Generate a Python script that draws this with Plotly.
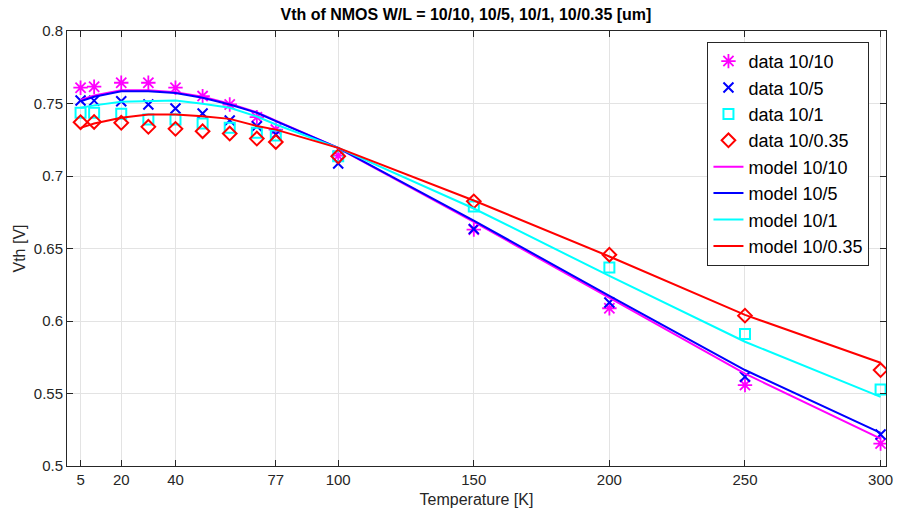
import plotly.graph_objects as go

# Temperatures [K]
temp = [5, 10, 20, 30, 40, 50, 60, 70, 77, 100, 150, 200, 250, 300]

# Measured Vth [V]
data_10_10 = [0.7609, 0.7616, 0.7643, 0.7643, 0.7609, 0.7551, 0.7493, 0.7406, 0.7320,
              0.7140, 0.6630, 0.6088, 0.5558, 0.5155]
data_10_5 = [0.7521, 0.7520, 0.7516, 0.7493, 0.7466, 0.7431, 0.7383, 0.7343, 0.7286,
             0.7086, 0.6634, 0.6127, 0.5615, 0.5217]
data_10_1 = [0.7436, 0.7436, 0.7429, 0.7390, 0.7390, 0.7362, 0.7332, 0.7298, 0.7279,
             0.7136, 0.6790, 0.6369, 0.5910, 0.5528]
data_10_035 = [0.7371, 0.7373, 0.7367, 0.7339, 0.7325, 0.7309, 0.7293, 0.7258, 0.7235,
               0.7136, 0.6825, 0.6457, 0.6037, 0.5662]

# Model Vth [V]
model_10_10 = [0.7525, 0.7555, 0.7592, 0.7592, 0.7578, 0.7546, 0.7498, 0.7440, 0.7382,
               0.7193, 0.6683, 0.6163, 0.5637, 0.5189]
model_10_5 = [0.7516, 0.7547, 0.7585, 0.7585, 0.7572, 0.7540, 0.7493, 0.7436, 0.7378,
              0.7194, 0.6692, 0.6173, 0.5662, 0.5228]
model_10_1 = [0.7470, 0.7487, 0.7512, 0.7516, 0.7520, 0.7498, 0.7470, 0.7410, 0.7355,
              0.7194, 0.6776, 0.6311, 0.5857, 0.5477]
model_10_035 = [0.7332, 0.7362, 0.7401, 0.7424, 0.7424, 0.7412, 0.7394, 0.7345, 0.7320,
                0.7194, 0.6831, 0.6445, 0.6042, 0.5712]

x_ticks = [5, 20, 40, 77, 100, 150, 200, 250, 300]
y_ticks = [0.5, 0.55, 0.6, 0.65, 0.7, 0.75, 0.8]
y_tick_text = ["0.5", "0.55", "0.6", "0.65", "0.7", "0.75", "0.8"]

MAG, BLU, CYA, RED = "#ff00ff", "#0000ff", "#00ffff", "#ff0000"
FONT = "Liberation Sans, Arial, Helvetica, sans-serif"
AX = "#262626"

fig = go.Figure()

def data_trace(y, name, color, symbol, size, lw):
    return go.Scatter(x=temp, y=y, name=name, mode="markers",
                      marker=dict(symbol=symbol, size=size, color=color,
                                  line=dict(color=color, width=lw)))

fig.add_trace(data_trace(data_10_10, "data 10/10", MAG, "asterisk-open", 12, 1.8))
fig.add_trace(data_trace(data_10_5, "data 10/5", BLU, "x-thin-open", 10, 2))
fig.add_trace(data_trace(data_10_1, "data 10/1", CYA, "square-open", 10, 2))
fig.add_trace(data_trace(data_10_035, "data 10/0.35", RED, "diamond-open", 10.5, 2))

def model_trace(y, name, color):
    return go.Scatter(x=temp, y=y, name=name, mode="lines",
                      line=dict(color=color, width=2))

fig.add_trace(model_trace(model_10_10, "model 10/10", MAG))
fig.add_trace(model_trace(model_10_5, "model 10/5", BLU))
fig.add_trace(model_trace(model_10_1, "model 10/1", CYA))
fig.add_trace(model_trace(model_10_035, "model 10/0.35", RED))

fig.update_layout(
    width=903, height=518,
    margin=dict(l=67, r=10, t=31, b=52),
    paper_bgcolor="white", plot_bgcolor="white",
    font=dict(family=FONT, color=AX, size=15),
    title=dict(text="<b>Vth of NMOS W/L = 10/10, 10/5, 10/1, 10/0.35 [um]</b>",
               x=0.516, xanchor="center", y=0.972, yanchor="middle",
               font=dict(size=16, color="#000000", family=FONT)),
    showlegend=True,
    legend=dict(x=0.782, y=0.975, xanchor="left", yanchor="top",
                bgcolor="white", bordercolor=AX, borderwidth=1,
                font=dict(size=18, color="#000000", family=FONT),
                tracegroupgap=0, itemwidth=30),
)

fig.update_xaxes(
    range=[0, 302], tickmode="array", tickvals=x_ticks,
    ticks="inside", ticklen=6, tickcolor=AX, showline=True, linecolor=AX,
    linewidth=1, mirror="ticks", showgrid=True, gridcolor="#e3e3e3", gridwidth=1,
    zeroline=False, tickfont=dict(size=15, color=AX),
    title=dict(text="Temperature [K]", font=dict(size=16, color=AX), standoff=6),
)
fig.update_yaxes(
    range=[0.5, 0.8], tickmode="array", tickvals=y_ticks, ticktext=y_tick_text,
    ticks="inside", ticklen=6, tickcolor=AX, showline=True, linecolor=AX,
    linewidth=1, mirror="ticks", showgrid=True, gridcolor="#e3e3e3", gridwidth=1,
    zeroline=False, tickfont=dict(size=15, color=AX),
    title=dict(text="Vth [V]", font=dict(size=16, color=AX), standoff=4),
)

fig.write_html("out.html")
